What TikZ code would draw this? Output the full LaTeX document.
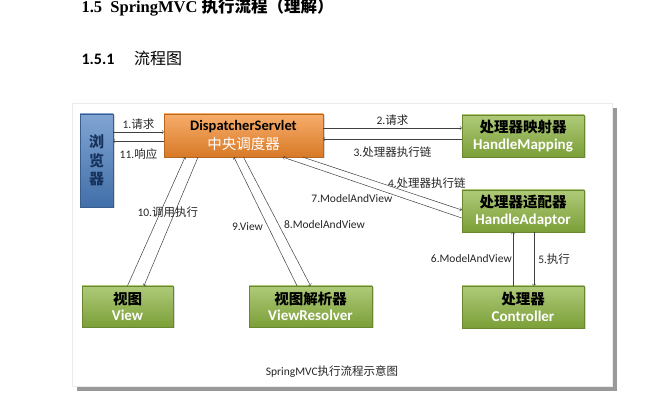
\documentclass[tikz,border=0pt]{standalone}
\usepackage{fontspec}
\setmainfont{Carlito}
\newfontfamily\cjk{Noto Sans CJK SC}
\newfontfamily\hdfont{Liberation Serif}
\usepackage{xcolor}
\usetikzlibrary{shadows}

\definecolor{bluebox}{HTML}{4A7EBF}
\definecolor{orangebox}{HTML}{F58A2C}
\definecolor{greenbox}{HTML}{8CB43F}
\definecolor{navytext}{HTML}{17325C}
\newcommand{\lbl}{\fontsize{11.5}{13}\selectfont}

\begin{document}
\begin{tikzpicture}[x=1pt,y=-1pt,
  box/.style={draw=#1!75!black, line width=0.4pt, top color=#1!70!white,
    bottom color=#1!88!black, inner sep=0pt, align=center,
    drop shadow={opacity=0.3, shadow xshift=1.5pt, shadow yshift=-1.5pt}},
  conn/.style={->, draw=black!75, line width=0.5pt},
  tag/.style={font=\lbl, text=black!85, inner sep=1pt}]

\useasboundingbox (0,0) rectangle (656,403);
\fill[white] (0,0) rectangle (656,403);

\node[anchor=base west, font=\fontsize{16.5}{18}\selectfont] (h1) at (78,13)
  {\hdfont\bfseries 1.5\ \ SpringMVC {\cjk\bfseries 执行流程（理解）}};
\node[anchor=base west, font=\fontsize{16}{18}\selectfont] (h2) at (78,65)
  {{\bfseries 1.5.1}\quad\ {\cjk 流程图}};

\fill[black!40] (77,108) rectangle (617,391);
\draw[black!8, fill=white] (72,103) rectangle (612,386);

\node[box=bluebox, minimum width=33pt, minimum height=93pt,
  font=\cjk\bfseries\fontsize{15}{18.5}\selectfont, text=navytext] (br) at (96.5,160.5) {浏\\览\\器};
\node[box=orangebox, minimum width=159pt, minimum height=43pt] (ds) at (243.5,135.5)
  {{\fontsize{14.5}{17}\selectfont\bfseries DispatcherServlet}\\[3pt]
   {\cjk\fontsize{14.5}{17}\selectfont\color{white}中央调度器}};
\node[box=greenbox, minimum width=122pt, minimum height=42pt] (hm) at (523,136)
  {{\cjk\bfseries\fontsize{14.5}{17}\selectfont 处理器映射器}\\[4pt]
   {\fontsize{15}{17}\selectfont\bfseries\color{white}HandleMapping}};
\node[box=greenbox, minimum width=122pt, minimum height=42pt] (ha) at (523,211)
  {{\cjk\bfseries\fontsize{14.5}{17}\selectfont 处理器适配器}\\[4pt]
   {\fontsize{15}{17}\selectfont\bfseries\color{white}HandleAdaptor}};
\node[box=greenbox, minimum width=122pt, minimum height=42pt] (ct) at (523,307)
  {{\cjk\bfseries\fontsize{14.5}{17}\selectfont 处理器}\\[4pt]
   {\fontsize{15}{17}\selectfont\bfseries\color{white}Controller}};
\node[box=greenbox, minimum width=91pt, minimum height=41pt] (vw) at (127.5,306.5)
  {{\cjk\bfseries\fontsize{14.5}{17}\selectfont 视图}\\[4pt]
   {\fontsize{15}{17}\selectfont\bfseries\color{white}View}};
\node[box=greenbox, minimum width=123pt, minimum height=41pt] (vr) at (310.5,306.5)
  {{\cjk\bfseries\fontsize{14.5}{17}\selectfont 视图解析器}\\[4pt]
   {\fontsize{15}{17}\selectfont\bfseries\color{white}ViewResolver}};

\draw[conn] ([yshift=28.5pt]br.east) coordinate (a1) -- (a1 -| ds.west)
  node[tag, midway, above=1pt] {1.{\cjk 请求}};
\draw[conn] ([yshift=-5.5pt]ds.west) coordinate (a11) -- (a11 -| br.east)
  node[tag, midway, below=6pt] {11.{\cjk 响应}};
\draw[conn] ([yshift=7.5pt]ds.east) coordinate (a2) -- (a2 -| hm.west)
  node[tag, midway, above=1pt] {2.{\cjk 请求}};
\draw[conn] ([yshift=-3pt]hm.west) coordinate (a3) -- (a3 -| ds.east)
  node[tag, midway, below=7pt] {3.{\cjk 处理器执行链}};
\draw[conn] ([xshift=59.5pt]ds.south) -- ([yshift=1pt]ha.west)
  node[tag, pos=0.78, above=9pt] {4.{\cjk 处理器执行链}};
\draw[conn] ([yshift=-7pt]ha.west) -- ([xshift=39.5pt]ds.south)
  node[tag, pos=0.615, below=13pt] {7.ModelAndView};
\draw[conn] ([xshift=11pt]ha.south) coordinate (a5) -- (a5 |- ct.north)
  node[tag, midway, right=3pt] {5.{\cjk 执行}};
\draw[conn] ([xshift=-10pt]ct.north) coordinate (a6) -- (a6 |- ha.south)
  node[tag, midway, left=0pt] {6.ModelAndView};
\draw[conn] (vw.north) -- ([xshift=-58.5pt]ds.south);
\draw[conn] ([xshift=-45.5pt]ds.south) -- ([xshift=16.5pt]vw.north)
  node[tag, pos=0.43, xshift=-7pt] {10.{\cjk 调用执行}};
\draw[conn] ([xshift=-13.5pt]vr.north) -- ([xshift=-9.5pt]ds.south)
  node[tag, pos=0.457, left=4pt] {9.View};
\draw[conn] (ds.south) -- (vr.north)
  node[tag, pos=0.527, right=4pt] {8.ModelAndView};

\node[font=\fontsize{11.5}{13}\selectfont, text=black!85] (cap) at (332,372)
  {SpringMVC{\cjk 执行流程示意图}};
\end{tikzpicture}
\end{document}
